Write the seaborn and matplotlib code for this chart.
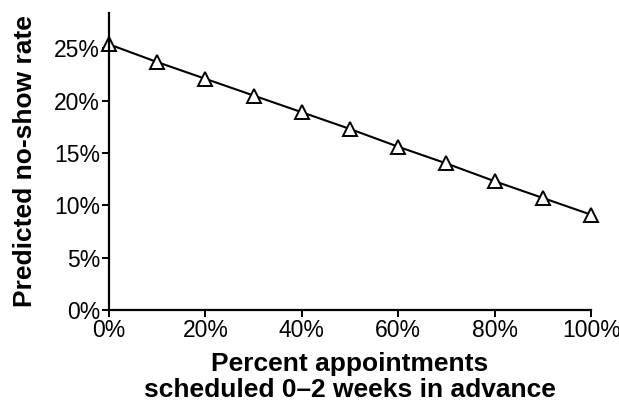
import matplotlib
matplotlib.use("Agg")
import matplotlib.pyplot as plt
from matplotlib.ticker import PercentFormatter, MultipleLocator
import seaborn as sns
import pandas as pd

# values
pct_scheduled = [0, 10, 20, 30, 40, 50, 60, 70, 80, 90, 100]
no_show_rate = [25.4, 23.7, 22.1, 20.5, 18.9, 17.3, 15.6, 14.0, 12.3, 10.7, 9.1]

df = pd.DataFrame({'scheduled': pct_scheduled, 'rate': no_show_rate})

sns.set_style('ticks')
plt.rcParams['font.family'] = ['Liberation Sans', 'DejaVu Sans']
plt.rcParams['text.color'] = 'black'
plt.rcParams['axes.labelcolor'] = 'black'

fig = plt.figure(figsize=(6.19, 4.04), dpi=100)
ax = fig.add_axes([0.176, 0.233, 0.779, 0.735])

sns.lineplot(data=df, x='scheduled', y='rate', ax=ax, color='black', linewidth=1.5,
             marker='^', markersize=9.5, markerfacecolor='white',
             markeredgecolor='black', markeredgewidth=1.4, clip_on=False)

ax.set_xlim(0, 100)
ax.set_ylim(0, 28.4)
ax.xaxis.set_major_locator(MultipleLocator(20))
ax.yaxis.set_major_locator(MultipleLocator(5))
ax.xaxis.set_major_formatter(PercentFormatter(decimals=0))
ax.yaxis.set_major_formatter(PercentFormatter(decimals=0))

sns.despine(ax=ax)
for s in ['left', 'bottom']:
    ax.spines[s].set_linewidth(1.6)
    ax.spines[s].set_color('black')
ax.tick_params(axis='both', length=5, width=1.4, color='black', labelsize=16.5,
               labelcolor='black', pad=1.5)

ax.set_xlabel('Percent appointments\nscheduled 0\u20132 weeks in advance',
              fontsize=19, fontweight='bold', labelpad=7, linespacing=1.15)
ax.set_ylabel('Predicted no-show rate', fontsize=19, fontweight='bold', labelpad=12)

fig.savefig('out.png', dpi=100)
